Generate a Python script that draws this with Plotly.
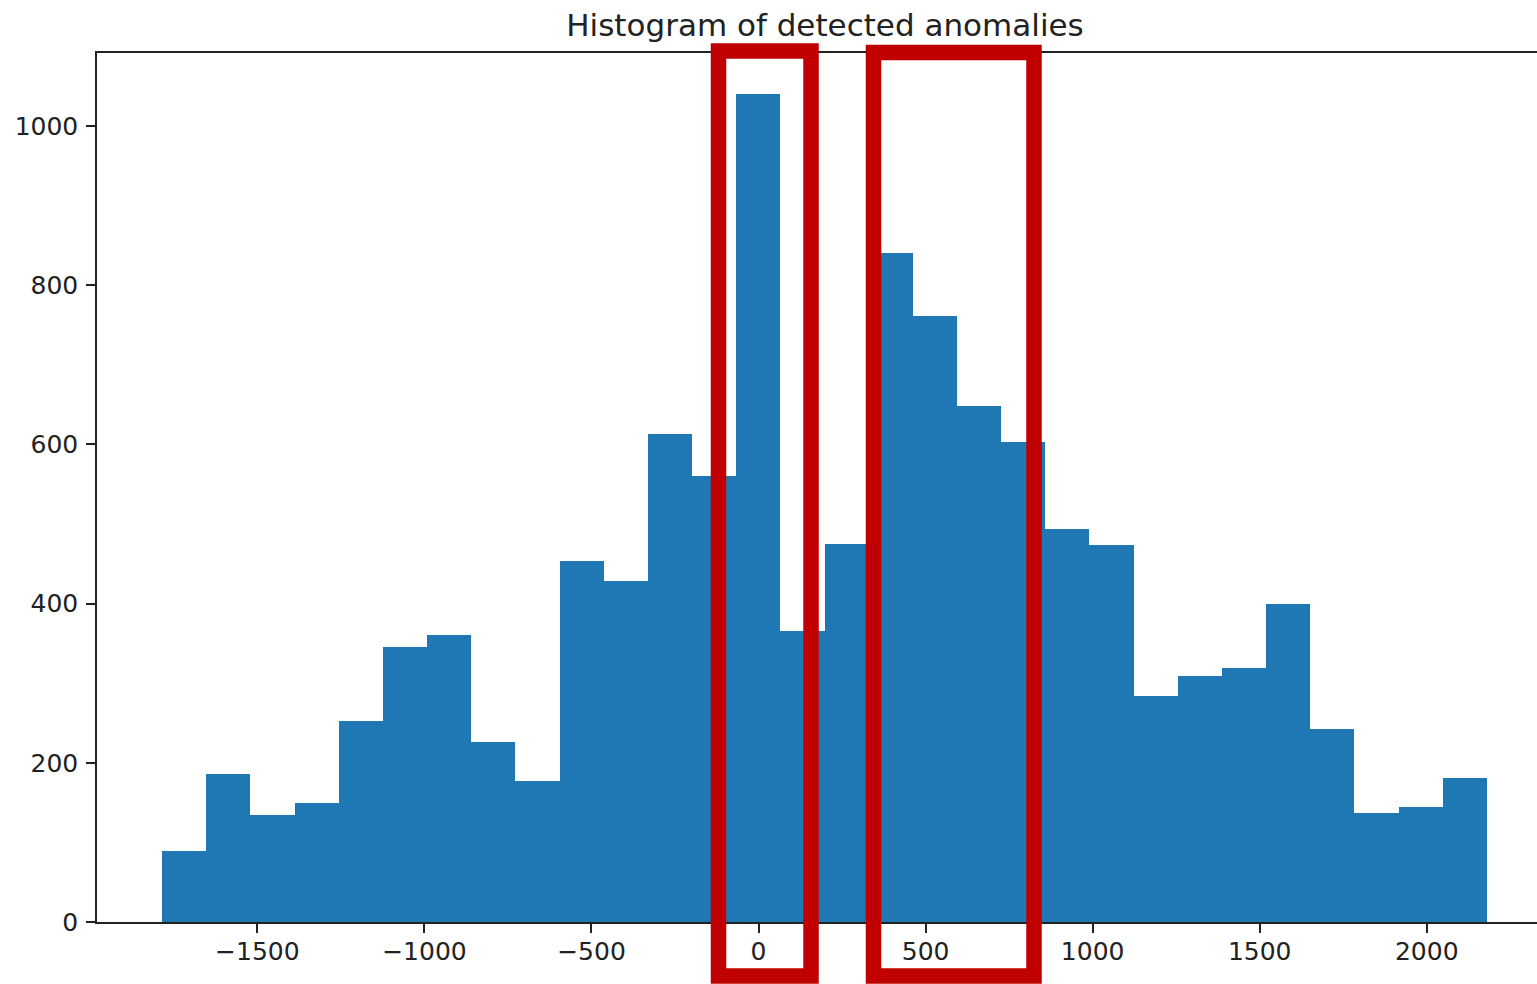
import plotly.graph_objects as go

# Histogram data (30 equal-width bins)
bin_min = -1785.0
bin_max = 2180.0
counts = [89, 186, 135, 150, 253, 345, 360, 226, 177, 454,
          429, 613, 560, 1040, 365, 475, 841, 761, 648, 603,
          494, 473, 284, 309, 319, 399, 243, 137, 145, 181]
x_tick_vals = [-1500, -1000, -500, 0, 500, 1000, 1500, 2000]
x_tick_text = ["\u22121500", "\u22121000", "\u2212500", "0", "500", "1000", "1500", "2000"]
y_tick_vals = [0, 200, 400, 600, 800, 1000]
title_text = "Histogram of detected anomalies"

n_bins = len(counts)
bw = (bin_max - bin_min) / n_bins
centers = [bin_min + bw * (i + 0.5) for i in range(n_bins)]

fig = go.Figure()
fig.add_trace(go.Bar(
    x=centers, y=counts, width=[bw] * n_bins,
    marker=dict(color="#1f77b4", line=dict(width=0)),
    showlegend=False, hoverinfo="skip",
))

W, H = 1537, 984
ml, mt, mb, mr = 97, 53, 62, 0
pw = W - ml - mr
ph = H - mt - mb

def px_x(p):
    return (p - ml) / pw

def px_y(p):
    return (H - mb - p) / ph

# Red highlight boxes (pixel positions of box stroke centres)
boxes = [(718.5, 51, 811, 976), (873.5, 52.5, 1034, 976)]
for x0, y0, x1, y1 in boxes:
    fig.add_shape(type="rect", xref="paper", yref="paper",
                  x0=px_x(x0), x1=px_x(x1), y0=px_y(y1), y1=px_y(y0),
                  line=dict(color="#c00000", width=15.5), fillcolor="rgba(0,0,0,0)",
                  layer="above")

axis_common = dict(
    showgrid=False, zeroline=False, showline=True, linecolor="#222", linewidth=1.5,
    ticks="outside", ticklen=9, tickwidth=1.5, tickcolor="#222",
    tickfont=dict(family="DejaVu Sans", size=25, color="#222"),
)

fig.update_layout(
    width=W, height=H,
    margin=dict(l=ml, r=mr, t=mt, b=mb, pad=0),
    paper_bgcolor="white", plot_bgcolor="white",
    bargap=0,
    title=dict(text=title_text, x=px_x(825), xref="paper", xanchor="center",
               y=1 - 25 / H, yref="container", yanchor="middle",
               font=dict(family="DejaVu Sans", size=31, color="#222")),
    xaxis=dict(range=[-1980, 2330], tickvals=x_tick_vals, ticktext=x_tick_text,
               mirror=True, ticklabelstandoff=-3, **axis_common),
    yaxis=dict(range=[0, 1091.7], tickvals=y_tick_vals, mirror=False,
               ticklabelstandoff=3, **axis_common),
)

fig.write_html("out.html")
